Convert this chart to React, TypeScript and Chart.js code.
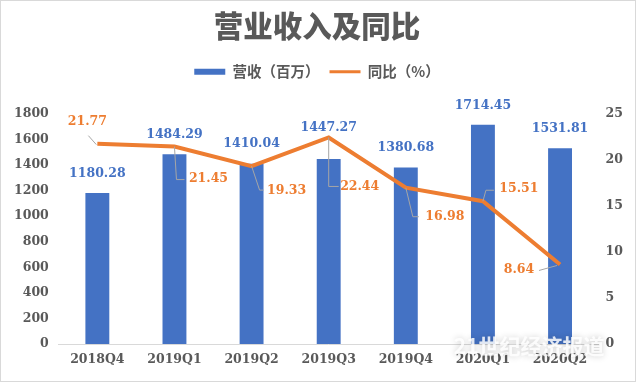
import React, { useEffect, useRef } from 'react';
import { Chart, registerables } from 'chart.js';

Chart.register(...registerables);

const titleText = '营业收入及同比';
const revenueName = '营收（百万）';
const yoyName = '同比（%）';
const categories = ['2018Q4', '2019Q1', '2019Q2', '2019Q3', '2019Q4', '2020Q1', '2020Q2'];
const revenue = [1180.28, 1484.29, 1410.04, 1447.27, 1380.68, 1714.45, 1531.81];
const yoy = [21.77, 21.45, 19.33, 22.44, 16.98, 15.51, 8.64];
const watermarkText = '21世纪经济报道';

const BLUE = '#4472C4';
const ORANGE = '#ED7D31';
const GRAY_TEXT = '#595959';
const NUM_FONT = 'bold 12.5px "DejaVu Serif"';

// label placement (style only)
const barLabelLift = [19.5, 19.5, 19.5, 31, 19.5, 19.5, 19.5];
const yoyLabelLayout = [
  { dx: -10, dy: -22, leader: [[-9, -8], [-1, 1]] },
  { dx: 34, dy: 32, leader: [[0, 0], [2, 33], [10, 33]] },
  { dx: 35, dy: 25, leader: [[0, 0], [8, 24], [12, 24]] },
  { dx: 31, dy: 49, leader: [[0, 0], [0, 49], [10, 49]] },
  { dx: 39, dy: 29, leader: [[0, 0], [7, 29], [13, 29]] },
  { dx: 36, dy: -12, leader: [[0, 0], [3, -11], [11, -11]] },
  { dx: -41, dy: 5, leader: [[-21, 6], [-3, 1]] },
];

const labelPlugin = {
  id: 'customLabels',
  beforeInit(chart: any) {
    const legend = chart.legend;
    if (legend) {
      const origFit = legend.fit;
      legend.fit = function () {
        origFit.call(this);
        this.height += 25;
      };
    }
  },
  afterDatasetsDraw(chart: any) {
    const ctx = chart.ctx;
    ctx.save();
    const barMeta = chart.getDatasetMeta(0);
    ctx.font = NUM_FONT;
    ctx.fillStyle = BLUE;
    ctx.textAlign = 'center';
    ctx.textBaseline = 'middle';
    barMeta.data.forEach((el: any, i: number) => {
      ctx.fillText(revenue[i].toFixed(2), el.x, el.y - barLabelLift[i]);
    });
    const lineMeta = chart.getDatasetMeta(1);
    lineMeta.data.forEach((el: any, i: number) => {
      const lay = yoyLabelLayout[i];
      ctx.strokeStyle = '#A6A6A6';
      ctx.lineWidth = 1;
      ctx.beginPath();
      lay.leader.forEach((p: number[], k: number) => {
        if (k === 0) ctx.moveTo(el.x + p[0], el.y + p[1]);
        else ctx.lineTo(el.x + p[0], el.y + p[1]);
      });
      ctx.stroke();
      ctx.fillStyle = ORANGE;
      ctx.fillText(yoy[i].toFixed(2), el.x + lay.dx, el.y + lay.dy);
    });
    ctx.restore();
  },
  afterDraw(chart: any) {
    const ctx = chart.ctx;
    const area = chart.chartArea;
    ctx.save();
    ctx.font = 'bold 21px "Noto Sans CJK SC"';
    ctx.textAlign = 'right';
    ctx.textBaseline = 'middle';
    ctx.shadowColor = 'rgba(0,0,0,0.25)';
    ctx.shadowBlur = 6;
    ctx.fillStyle = 'rgba(255,255,255,0.85)';
    ctx.fillText(watermarkText, area.right + 6, area.bottom + 2);
    ctx.restore();
  },
};

const tickFont = { family: '"DejaVu Serif"', size: 12.5, weight: 'bold' as const };

export default function App() {
  const canvasRef = useRef<HTMLCanvasElement | null>(null);

  useEffect(() => {
    if (!canvasRef.current) return;
    const chart = new Chart(canvasRef.current, {
      type: 'bar',
      data: {
        labels: categories,
        datasets: [
          {
            type: 'bar',
            label: revenueName,
            data: revenue,
            backgroundColor: BLUE,
            yAxisID: 'y',
            barPercentage: 0.31,
            categoryPercentage: 1,
            order: 1,
          },
          {
            type: 'line',
            label: yoyName,
            data: yoy,
            borderColor: ORANGE,
            backgroundColor: ORANGE,
            borderWidth: 4,
            pointRadius: 0,
            tension: 0,
            yAxisID: 'y1',
            order: 0,
          },
        ],
      },
      options: {
        animation: false,
        responsive: false,
        maintainAspectRatio: false,
        layout: { padding: { left: 3, right: 5, top: 0, bottom: 6 } },
        plugins: {
          tooltip: { enabled: false },
          title: {
            display: true,
            text: titleText,
            color: GRAY_TEXT,
            font: { family: '"Noto Sans CJK SC"', size: 29.5, weight: '900' },
            padding: { top: 7, bottom: 11 },
          },
          legend: {
            display: true,
            position: 'top',
            labels: {
              usePointStyle: true,
              pointStyleWidth: 31,
              boxWidth: 31,
              boxHeight: 6,
              padding: 10,
              color: GRAY_TEXT,
              font: { family: '"Noto Sans CJK SC"', size: 14.5, weight: 'bold' },
              generateLabels: () => [
                {
                  text: revenueName,
                  fillStyle: BLUE,
                  strokeStyle: BLUE,
                  lineWidth: 0,
                  pointStyle: 'rect',
                  hidden: false,
                  datasetIndex: 0,
                  fontColor: GRAY_TEXT,
                } as any,
                {
                  text: yoyName,
                  fillStyle: ORANGE,
                  strokeStyle: ORANGE,
                  lineWidth: 3,
                  pointStyle: 'line',
                  hidden: false,
                  datasetIndex: 1,
                  fontColor: GRAY_TEXT,
                } as any,
              ],
            },
          },
        },
        scales: {
          x: {
            grid: { display: false, drawTicks: false },
            border: { display: true, color: '#D9D9D9', width: 1 },
            ticks: { color: GRAY_TEXT, font: tickFont, padding: 8 },
          },
          y: {
            position: 'left',
            min: 0,
            max: 1800,
            grid: { display: false, drawTicks: false },
            border: { display: false },
            ticks: {
              stepSize: 200,
              color: GRAY_TEXT,
              font: tickFont,
              padding: 10,
              callback: (v: any) => String(v),
            },
          },
          y1: {
            position: 'right',
            min: 0,
            max: 25,
            grid: { display: false, drawTicks: false },
            border: { display: false },
            ticks: {
              stepSize: 5,
              color: GRAY_TEXT,
              font: tickFont,
              padding: 7,
              callback: (v: any) => String(v),
            },
          },
        },
      },
      plugins: [labelPlugin],
    });
    return () => chart.destroy();
  }, []);

  return (
    <div
      style={{
        position: 'absolute',
        left: 0,
        top: 0,
        width: 636,
        height: 382,
        boxSizing: 'border-box',
        border: '1px solid #D9D9D9',
        background: '#fff',
      }}
    >
      <canvas ref={canvasRef} width={634} height={380} style={{ display: 'block' }} />
    </div>
  );
}
